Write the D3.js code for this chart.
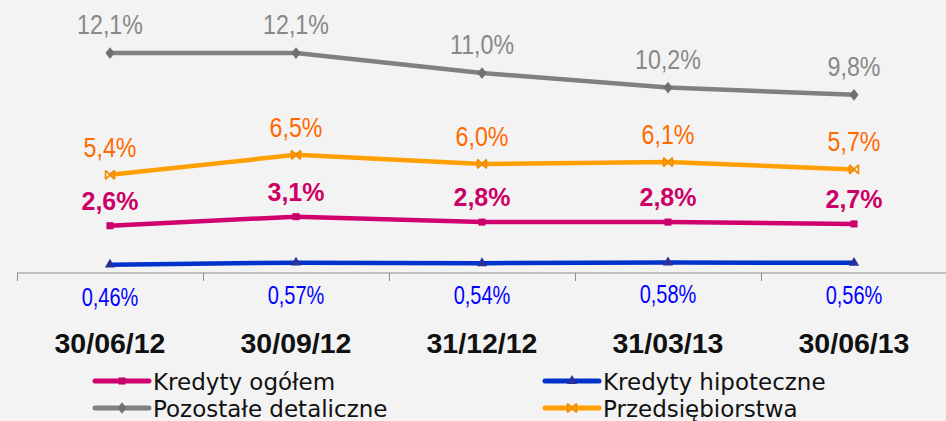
<!DOCTYPE html>
<html lang="pl">
<head>
    <meta charset="UTF-8">
    <title>Wskaźnik kredytów zagrożonych</title>
    <style>
        body {
            margin: 0;
            background: #f3f3f3;
        }
        #chart text {
            text-anchor: middle;
            font-family: "Liberation Sans", Arial, sans-serif;
        }
        .val {
            font-size: 27px;
        }
        .val-small {
            font-size: 25px;
        }
        .val-bold {
            font-weight: bold;
            font-size: 25px;
        }
        .cat {
            font-weight: bold;
            font-size: 28.5px;
            fill: #111;
        }
        #chart .legend text {
            font-family: "DejaVu Sans", Verdana, sans-serif;
            font-size: 23px;
            fill: #111;
            text-anchor: start;
        }
    </style>
    <script src="https://d3js.org/d3.v7.min.js"></script>
</head>
<body>
    <div id="chart"></div>

    <script>
        // Dane
        const categories = ["30/06/12", "30/09/12", "31/12/12", "31/03/13", "30/06/13"];
        const kredytyOgolem = [2.6, 3.1, 2.8, 2.8, 2.7];
        const kredytyHipoteczne = [0.46, 0.57, 0.54, 0.58, 0.56];
        const pozostaleDetaliczne = [12.1, 12.1, 11.0, 10.2, 9.8];
        const przedsiebiorstwa = [5.4, 6.5, 6.0, 6.1, 5.7];

        const width = 946;
        const height = 421;

        const pl = d3.formatLocale({decimal: ",", thousands: " ", grouping: [3], currency: ["", " zł"]});
        const f1 = v => pl.format(".1f")(v) + "%";
        const f2 = v => pl.format(".2f")(v) + "%";

        // kolejnosc rysowania; sx = zwezenie tekstu (czcionka waska jak w oryginale)
        const series = [
            {name: "Pozostałe detaliczne", values: pozostaleDetaliczne, color: "#808080", markColor: "#707070",
             marker: "diamond", textColor: "#888888", cls: "val", sx: 0.86, fmt: f1, dy: -19},
            {name: "Przedsiębiorstwa", values: przedsiebiorstwa, color: "#ffa000", markColor: "#f08a00",
             marker: "star", textColor: "#ff6a00", cls: "val", sx: 0.86, fmt: f1, dy: -18},
            {name: "Kredyty ogółem", values: kredytyOgolem, color: "#d0006f", markColor: "#c8006a",
             marker: "square", textColor: "#cc0066", cls: "val-bold", sx: 1, fmt: f1, dy: -16},
            {name: "Kredyty hipoteczne", values: kredytyHipoteczne, color: "#0033cc", markColor: "#2b2f96",
             marker: "triangle", textColor: "#0000ff", cls: "val-small", sx: 0.8, fmt: f2, dy: 41}
        ];

        const svg = d3.select("#chart")
            .append("svg")
            .attr("width", width)
            .attr("height", height);

        svg.append("rect")
            .attr("width", width)
            .attr("height", height)
            .attr("fill", "#f3f3f3");

        const x = d3.scaleBand()
            .domain(categories)
            .range([17, 947]);
        const cx = c => x(c) + x.bandwidth() / 2;

        const y = d3.scaleLinear()
            .domain([0, 14])
            .range([273, 18.5]);

        // Os X
        const axis = svg.append("g").attr("class", "axis");
        axis.append("line")
            .attr("x1", x.range()[0]).attr("x2", width)
            .attr("y1", y(0)).attr("y2", y(0))
            .attr("stroke", "#8c8c8c").attr("stroke-width", 1);
        axis.selectAll(".tick")
            .data(categories)
            .enter()
            .append("line")
            .attr("x1", d => Math.round(x(d)) + 0.5).attr("x2", d => Math.round(x(d)) + 0.5)
            .attr("y1", y(0)).attr("y2", y(0) + 8)
            .attr("stroke", "#8c8c8c").attr("stroke-width", 1);

        svg.selectAll(".cat")
            .data(categories)
            .enter()
            .append("text")
            .attr("class", "cat")
            .attr("x", d => cx(d))
            .attr("y", 353)
            .text(d => d);

        // Markery
        function drawMarker(g, type, color, px, py) {
            if (type === "star") {
                const s = 4.5;
                g.append("path")
                    .attr("d", `M${px - s},${py - s}L${px + s},${py + s}M${px - s},${py + s}L${px + s},${py - s}` +
                        `M${px - s},${py - s}V${py + s}M${px + s},${py - s}V${py + s}`)
                    .attr("stroke", color).attr("stroke-width", 1.6).attr("fill", "none");
                return;
            }
            const sym = {diamond: d3.symbolDiamond, square: d3.symbolSquare, triangle: d3.symbolTriangle}[type];
            const size = {diamond: 55, square: 50, triangle: 45}[type];
            g.append("path")
                .attr("d", d3.symbol().type(sym).size(size)())
                .attr("transform", `translate(${px},${py})` + (type === "diamond" ? " scale(1.15,0.85)" : ""))
                .attr("fill", color);
        }

        const line = d3.line()
            .x((d, i) => cx(categories[i]))
            .y(d => y(d));

        series.forEach(s => {
            const g = svg.append("g");
            g.append("path")
                .datum(s.values)
                .attr("d", line)
                .attr("fill", "none")
                .attr("stroke", s.color)
                .attr("stroke-width", 4.5)
                .attr("stroke-linejoin", "round");
            s.values.forEach((v, i) => drawMarker(g, s.marker, s.markColor, cx(categories[i]), y(v)));
            g.selectAll("text")
                .data(s.values)
                .enter()
                .append("text")
                .attr("class", s.cls)
                .attr("transform", (d, i) => `translate(${cx(categories[i])},${y(d) + s.dy}) scale(${s.sx},1)`)
                .attr("fill", s.textColor)
                .text(d => s.fmt(d));
        });

        // Legenda
        const legendOrder = ["Kredyty ogółem", "Kredyty hipoteczne", "Pozostałe detaliczne", "Przedsiębiorstwa"];
        const legend = svg.append("g").attr("class", "legend");
        legendOrder.forEach((name, i) => {
            const s = series.find(d => d.name === name);
            const lx = i % 2 === 0 ? 95 : 545;
            const ly = i < 2 ? 381 : 408;
            const g = legend.append("g");
            g.append("line")
                .attr("x1", lx).attr("x2", lx + 54)
                .attr("y1", ly).attr("y2", ly)
                .attr("stroke", s.color).attr("stroke-width", 5)
                .attr("stroke-linecap", "round");
            drawMarker(g, s.marker, s.markColor, lx + 27, ly);
            g.append("text")
                .attr("x", lx + 58)
                .attr("y", ly + 9)
                .text(name);
        });
    </script>
</body>
</html>
